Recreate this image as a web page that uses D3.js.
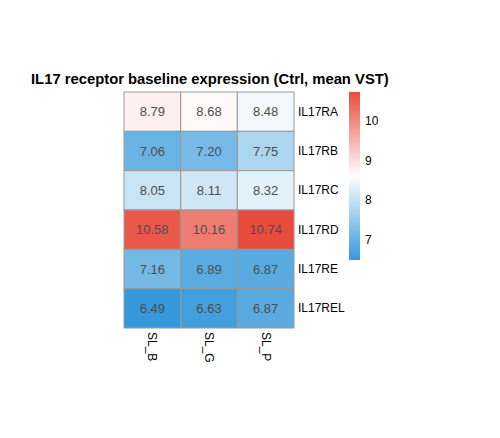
<!DOCTYPE html>
<html><head>
<meta charset="utf-8">
<script src="https://d3js.org/d3.v7.min.js"></script>
<style>
body { margin: 0; background: #fff; }
text { font-family: "Liberation Sans", Arial, sans-serif; }
</style>
</head>
<body>
<div id="chart"></div>
<script>
// data
var genes = ["IL17RA", "IL17RB", "IL17RC", "IL17RD", "IL17RE", "IL17REL"];
var samples = ["SL_B", "SL_G", "SL_P"];
var values = [
  [8.79, 8.68, 8.48],
  [7.06, 7.20, 7.75],
  [8.05, 8.11, 8.32],
  [10.58, 10.16, 10.74],
  [7.16, 6.89, 6.87],
  [6.49, 6.63, 6.87]
];
var legendTicks = [7, 8, 9, 10];

var W = 500, H = 438;
var svg = d3.select("#chart").append("svg")
  .attr("width", W).attr("height", H);

svg.append("text")
  .attr("x", 31).attr("y", 84)
  .style("font-size", "14.8px")
  .style("font-weight", "bold")
  .text("IL17 receptor baseline expression (Ctrl, mean VST)");

var cells = [];
genes.forEach(function(g, i) {
  samples.forEach(function(s, j) {
    cells.push({gene: g, sample: s, v: values[i][j]});
  });
});

var vmin = d3.min(cells, function(d) { return d.v; });
var vmax = d3.max(cells, function(d) { return d.v; });
var color = d3.scaleLinear()
  .domain([vmin, (vmin + vmax) / 2, vmax])
  .range(["#3498db", "#ffffff", "#e74c3c"]);

var x = d3.scaleBand().domain(samples).range([124, 294]);
var y = d3.scaleBand().domain(genes).range([92, 328]);

svg.selectAll("rect.cell")
  .data(cells)
  .enter().append("rect")
  .attr("class", "cell")
  .attr("x", function(d) { return x(d.sample); })
  .attr("y", function(d) { return y(d.gene); })
  .attr("width", x.bandwidth())
  .attr("height", y.bandwidth())
  .attr("fill", function(d) { return color(d.v); })
  .attr("stroke", "#999999")
  .attr("stroke-width", 1);

svg.selectAll("text.val")
  .data(cells)
  .enter().append("text")
  .attr("class", "val")
  .attr("x", function(d) { return x(d.sample) + x.bandwidth() / 2; })
  .attr("y", function(d) { return y(d.gene) + y.bandwidth() / 2; })
  .attr("text-anchor", "middle")
  .attr("dominant-baseline", "central")
  .style("font-size", "13px")
  .attr("fill", "#4d4d4d")
  .text(function(d) { return d.v.toFixed(2); });

// row labels
svg.selectAll("text.row")
  .data(genes)
  .enter().append("text")
  .attr("class", "row")
  .attr("x", 298)
  .attr("y", function(d) { return y(d) + y.bandwidth() / 2; })
  .attr("dominant-baseline", "central")
  .style("font-size", "12px")
  .text(function(d) { return d; });

// column labels, rotated
svg.selectAll("text.col")
  .data(samples)
  .enter().append("text")
  .attr("class", "col")
  .attr("transform", function(d) {
    return "translate(" + (x(d) + x.bandwidth() / 2 - 4) + ",332) rotate(90)";
  })
  .style("font-size", "12px")
  .text(function(d) { return d; });

// colour bar
var ly = d3.scaleLinear().domain([vmin, vmax]).range([260, 92]);
var defs = svg.append("defs");
var grad = defs.append("linearGradient")
  .attr("id", "lg").attr("x1", 0).attr("y1", 1).attr("x2", 0).attr("y2", 0);
d3.range(0, 1.0001, 0.1).forEach(function(t) {
  grad.append("stop")
    .attr("offset", t)
    .attr("stop-color", color(vmin + t * (vmax - vmin)));
});
svg.append("rect")
  .attr("x", 349).attr("y", 92)
  .attr("width", 11).attr("height", 168)
  .attr("fill", "url(#lg)");

svg.selectAll("text.lt")
  .data(legendTicks)
  .enter().append("text")
  .attr("class", "lt")
  .attr("x", 365)
  .attr("y", function(d) { return ly(d); })
  .attr("dominant-baseline", "central")
  .style("font-size", "12px")
  .text(function(d) { return d; });
</script>
</body></html>
